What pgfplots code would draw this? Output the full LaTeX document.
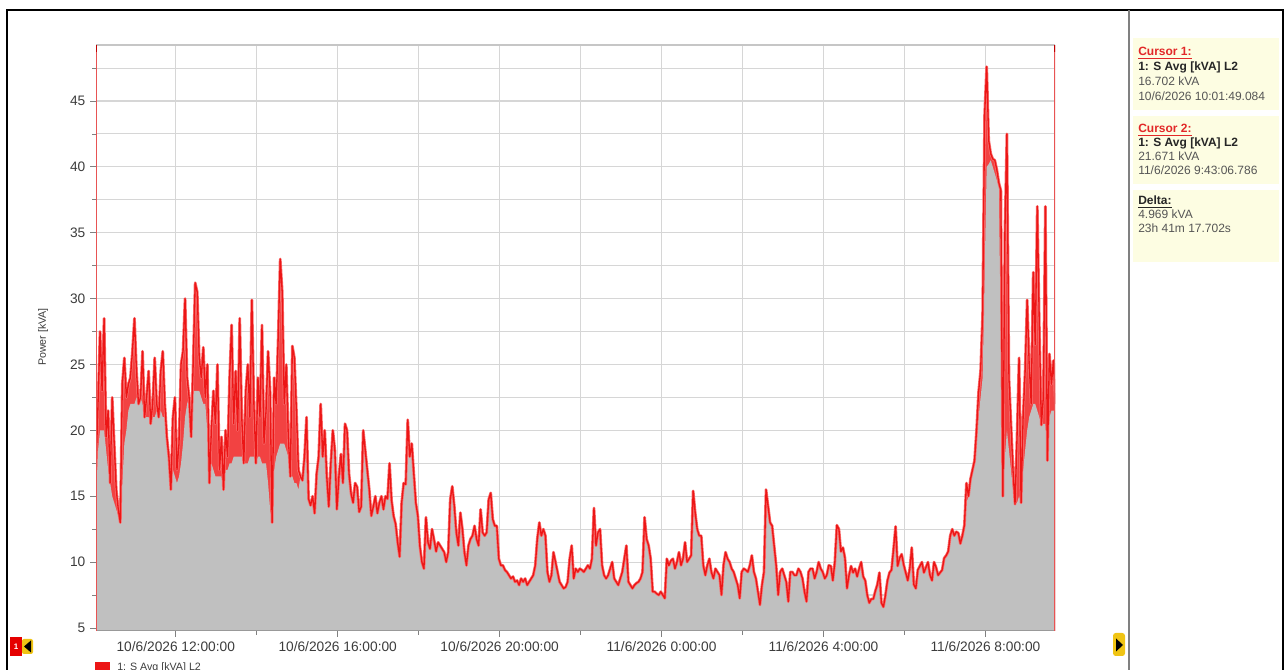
\documentclass[border=0pt]{standalone}
\usepackage{pgfplots}
\usepackage{pgfplotstable}
\pgfplotsset{compat=1.18}
\usepackage{fontspec}
\setmainfont{Liberation Sans}

\definecolor{fillgray}{RGB}{192,192,192}
\definecolor{tracered}{RGB}{236,22,22}
\definecolor{tracepink}{RGB}{248,110,110}
\definecolor{bandred}{RGB}{242,66,66}
\definecolor{gridgray}{RGB}{214,214,214}
\definecolor{panelyellow}{RGB}{253,253,226}
\definecolor{txtgray}{RGB}{85,85,85}
\definecolor{tickgray}{RGB}{60,60,60}
\definecolor{cursorred}{RGB}{226,40,40}
\definecolor{btnyellow}{RGB}{240,196,20}

% S Avg [kVA] L2, one sample every 3 minutes from 10/6/2026 10:01:49.
% v: sampled value; lo: lower edge of the fast fluctuation band
% (60 where the trace is calm and no band shows).
\pgfplotstableread[row sep=\\]{
v lo\\
17 17\\ 22 18.5\\ 27.5 20\\ 23 20\\ 28.5 20\\ 19.5 18.5\\ 21.5 17\\ 16 16\\ 22.5 15\\ 19 14.5\\
15.5 14\\ 14 13.5\\ 13 13\\ 23.5 16\\ 25.5 19\\ 22.5 20\\ 23.5 21.5\\ 24 22\\ 26 22\\ 28.5 22\\
24.5 22.5\\ 22 22.5\\ 22.5 22.5\\ 26 22\\ 21 21.5\\ 22.5 21\\ 24.5 21\\ 20.5 21\\ 22 21\\ 25.5 21\\
22 21.5\\ 21 21.5\\ 24.5 21.5\\ 26 21\\ 22 21\\ 19.5 20\\ 18 19\\ 15.5 18\\ 21 17\\ 22.5 16.5\\
17 16\\ 19 16.5\\ 25 17.5\\ 26 19\\ 30 21\\ 24 22\\ 22.5 22.5\\ 19.5 23\\ 25 23\\ 31.2 23\\
30.5 23\\ 25.5 23\\ 24 22.5\\ 26.3 22\\ 22.5 22\\ 25 20\\ 16 18.5\\ 20 17.5\\ 23 17\\ 20.5 16.5\\
25 16.5\\ 17 16.5\\ 19.5 16.5\\ 15.5 16.5\\ 20 17\\ 18 17\\ 24 17.5\\ 28 17.5\\ 20.5 18\\ 24.5 18\\
20 18\\ 28.5 18\\ 21 18\\ 17.5 18\\ 23 17.5\\ 25 17.5\\ 21 18\\ 29.9 18\\ 22 18\\ 17.5 18\\
24 18\\ 21 18\\ 28 17.5\\ 19 17.5\\ 21.5 17.5\\ 26 16\\ 23 14\\ 13 13\\ 24 17\\ 22 18\\
27 18.5\\ 33 19\\ 30.5 19\\ 22 19\\ 25 18.5\\ 19.5 18\\ 16.5 17\\ 26.4 16.5\\ 25.5 16\\ 21.5 16\\
17 15.5\\ 16.5 60\\ 16.2 60\\ 18 60\\ 21 60\\ 14.8 60\\ 14.3 60\\ 15 60\\ 13.7 60\\ 16.7 60\\
18 60\\ 22 60\\ 18 60\\ 20 60\\ 16.5 60\\ 14.2 60\\ 17.5 60\\ 20 60\\ 18.5 60\\ 14 60\\
16.5 60\\ 18.2 60\\ 16 60\\ 20.5 60\\ 20 60\\ 16.7 60\\ 15.2 60\\ 14.5 60\\ 16 60\\ 15.7 60\\
13.8 60\\ 14.2 60\\ 20 60\\ 18.5 60\\ 17 60\\ 15.5 60\\ 13.5 60\\ 14.2 60\\ 15 60\\ 13.7 60\\
14.5 60\\ 15 60\\ 14 60\\ 15 60\\ 14.8 60\\ 17.5 60\\ 14.7 60\\ 13.5 60\\ 12.9 60\\ 11.5 60\\
10.4 60\\ 14.5 60\\ 16 60\\ 15.9 60\\ 20.8 60\\ 18 60\\ 19 60\\ 16.7 60\\ 14.5 60\\ 13.5 60\\
11.2 60\\ 10 60\\ 9.5 60\\ 13.4 60\\ 11.5 60\\ 11 60\\ 12.5 60\\ 11.7 60\\ 10.8 60\\ 11.5 60\\
11.25 60\\ 11 60\\ 10.75 60\\ 10 60\\ 10.75 60\\ 14.75 60\\ 15.75 60\\ 14.25 60\\ 12.25 60\\ 11.25 60\\
13.75 60\\ 12.5 60\\ 10.75 60\\ 9.75 60\\ 11.25 60\\ 11.75 60\\ 12 60\\ 12.75 60\\ 11.75 60\\ 11.25 60\\
14 60\\ 12.25 60\\ 12 60\\ 12.25 60\\ 14.75 60\\ 15.25 60\\ 13.25 60\\ 12.75 60\\ 12.75 60\\ 10.25 60\\
9.75 60\\ 9.75 60\\ 9.4 60\\ 9.25 60\\ 9 60\\ 8.75 60\\ 8.9 60\\ 8.5 60\\ 8.6 60\\ 8.25 60\\
8.75 60\\ 8.5 60\\ 8.75 60\\ 8.25 60\\ 8.5 60\\ 8.75 60\\ 9 60\\ 9.75 60\\ 11.75 60\\ 13 60\\
12 60\\ 12.5 60\\ 12 60\\ 9.25 60\\ 8.5 60\\ 9 60\\ 10.75 60\\ 10 60\\ 9.25 60\\ 8.5 60\\
8.25 60\\ 8 60\\ 8.1 60\\ 8.5 60\\ 10.25 60\\ 11.25 60\\ 8.75 60\\ 9.5 60\\ 9.25 60\\ 9.5 60\\
9.4 60\\ 9.25 60\\ 9.5 60\\ 9.75 60\\ 9.5 60\\ 10.25 60\\ 14.1 60\\ 11.25 60\\ 12.25 60\\ 12.5 60\\
9.75 60\\ 9 60\\ 8.75 60\\ 9 60\\ 9.5 60\\ 10 60\\ 8.75 60\\ 8.5 60\\ 8.25 60\\ 8.75 60\\
9.25 60\\ 10.25 60\\ 11.25 60\\ 8.5 60\\ 8.25 60\\ 8 60\\ 8.25 60\\ 8.4 60\\ 8.5 60\\ 8.75 60\\
9.25 60\\ 13.4 60\\ 11.75 60\\ 11.25 60\\ 10.25 60\\ 7.75 60\\ 7.75 60\\ 7.6 60\\ 7.5 60\\ 7.75 60\\
7.5 60\\ 7.25 60\\ 10.25 60\\ 9.75 60\\ 10.1 60\\ 10.25 60\\ 9.5 60\\ 10 60\\ 10.75 60\\ 9.75 60\\
10.25 60\\ 11.5 60\\ 10 60\\ 10.25 60\\ 10.5 60\\ 15.4 60\\ 13.75 60\\ 12.5 60\\ 12 60\\ 12 60\\
9.75 60\\ 9 60\\ 9.75 60\\ 10.25 60\\ 9.25 60\\ 8.75 60\\ 9.5 60\\ 9.25 60\\ 9 60\\ 7.5 60\\
9.75 60\\ 10.75 60\\ 10.25 60\\ 10 60\\ 9.5 60\\ 9.25 60\\ 8.75 60\\ 8.25 60\\ 7.25 60\\ 9.25 60\\
9.5 60\\ 9.4 60\\ 9.25 60\\ 9.75 60\\ 10.5 60\\ 9.25 60\\ 8.75 60\\ 7.75 60\\ 6.75 60\\ 8.25 60\\
9.25 60\\ 15.5 60\\ 14.25 60\\ 13 60\\ 12.75 60\\ 11.25 60\\ 9.75 60\\ 7.5 60\\ 9.25 60\\ 9.5 60\\
9 60\\ 8.5 60\\ 7 60\\ 9.25 60\\ 9.25 60\\ 9 60\\ 9 60\\ 9.5 60\\ 9.25 60\\ 8.75 60\\
7.75 60\\ 7 60\\ 9.25 60\\ 9.5 60\\ 9.5 60\\ 8.75 60\\ 9.25 60\\ 10 60\\ 9.5 60\\ 9.25 60\\
8.75 60\\ 9 60\\ 9.75 60\\ 9.7 60\\ 8.6 60\\ 10 60\\ 12.8 60\\ 12.5 60\\ 10.8 60\\ 11.1 60\\
10.3 60\\ 8 60\\ 9 60\\ 9.7 60\\ 9.2 60\\ 9.5 60\\ 8.9 60\\ 9.5 60\\ 10 60\\ 8.9 60\\
8.6 60\\ 7.5 60\\ 6.9 60\\ 7.2 60\\ 7.2 60\\ 7.8 60\\ 8.3 60\\ 9.2 60\\ 6.9 60\\ 6.6 60\\
7.5 60\\ 8.6 60\\ 9.2 60\\ 9.4 60\\ 11 60\\ 12.7 60\\ 9.7 60\\ 10.3 60\\ 10.6 60\\ 9.8 60\\
9.2 60\\ 8.6 60\\ 9.5 60\\ 11.1 60\\ 8.3 60\\ 8 60\\ 9.4 60\\ 9.7 60\\ 10 60\\ 9.2 60\\
9.6 60\\ 10 60\\ 9 60\\ 8.6 60\\ 10 60\\ 9.6 60\\ 9 60\\ 9.2 60\\ 9.4 60\\ 10.3 60\\
10.5 60\\ 10.8 60\\ 12 60\\ 12.5 60\\ 12 60\\ 12.3 60\\ 12.2 60\\ 11.4 60\\ 12 12\\ 12.8 13\\
16 14.5\\ 15 15\\ 16.3 16.3\\ 17 17\\ 17.7 17.7\\ 20 19.5\\ 22.9 21\\ 24.5 22.5\\ 28.8 24\\ 44 32\\
47.6 40\\ 42 40.2\\ 41 40.5\\ 40.6 40\\ 40.5 39.5\\ 39.8 39\\ 38.8 38.5\\ 38.2 27\\ 15 15\\ 35 18\\
42.5 20\\ 24 18.5\\ 20.5 17\\ 17 15.5\\ 14.4 14.4\\ 19.5 14.5\\ 25.5 15\\ 14.5 14.5\\ 21 17\\ 24.5 18.5\\
29.9 20\\ 25 21\\ 22 21.5\\ 32 22\\ 26.5 22\\ 37 21.5\\ 28 21\\ 20.4 20.4\\ 22.5 20.5\\ 37 20.5\\
17.7 17.7\\ 25.8 21\\ 23.5 21.5\\ 25.3 21.5\\ 22 21.5\\
}\savg

\begin{document}
\begin{tikzpicture}
\begin{scope}[x=0.75pt, y=0.75pt]
\clip (0,0) rectangle (1287,670);
\path (0,0) rectangle (1287,670);

% window frame and side panel
\draw[black, line width=1.6pt] (7,-10) -- (7,660) -- (1283,660) -- (1283,-10);
\draw[gray, line width=1pt] (1129,-10) -- (1129,660);
\fill[panelyellow] (1133,632) rectangle (1279,560);
\fill[panelyellow] (1133,554) rectangle (1279,486);
\fill[panelyellow] (1133,480) rectangle (1279,408);

\begin{scope}[every node/.style={anchor=base west, inner sep=0pt, font=\fontsize{9}{11}\selectfont}]
\node[text=cursorred] at (1138,614) {\underline{\textbf{Cursor 1:}}};
\node[text=black!85] at (1138,599) {\textbf{1: S Avg [kVA] L2}};
\node[text=txtgray] at (1138,584) {16.702 kVA};
\node[text=txtgray] at (1138,569) {10/6/2026 10:01:49.084};
\node[text=cursorred] at (1138,537) {\underline{\textbf{Cursor 2:}}};
\node[text=black!85] at (1138,523) {\textbf{1: S Avg [kVA] L2}};
\node[text=txtgray] at (1138,509) {21.671 kVA};
\node[text=txtgray] at (1138,495) {11/6/2026 9:43:06.786};
\node[text=black!85] at (1138,465) {\underline{\textbf{Delta:}}};
\node[text=txtgray] at (1138,451) {4.969 kVA};
\node[text=txtgray] at (1138,437) {23h 41m 17.702s};
\end{scope}

% axis title
\node[rotate=90, font=\fontsize{8}{10}\selectfont, text=tickgray] at (43,333) {Power [kVA]};

% cursor buttons
\fill[red!90!black] (10,14) rectangle (22,33);
\node[text=white, font=\fontsize{6}{7}\selectfont\bfseries] at (16,23.5) {1};
\fill[btnyellow, rounded corners=1.5pt] (22,16) rectangle (33,31);
\fill[black] (31,17.5) -- (31,29.5) -- (24,23.5) -- cycle;
\fill[btnyellow, rounded corners=2pt] (1113,14) rectangle (1125,37);
\fill[black] (1116,18.5) -- (1116,31.5) -- (1123,25) -- cycle;

% legend entry
\fill[tracered] (95,-4) rectangle (110,8);
\node[anchor=west, inner sep=0pt, font=\fontsize{8}{10}\selectfont, text=tickgray] at (117,2) {1: S Avg [kVA] L2};
\end{scope}

\begin{axis}[
  at={(72pt,29.25pt)}, anchor=south west,
  scale only axis, width=719.25pt, height=439.5pt,
  xmin=10.03, xmax=33.718, ymin=4.77, ymax=49.25,
  xtick={12,16,20,24,28,32},
  xticklabels={10/6/2026 12:00:00, 10/6/2026 16:00:00, 10/6/2026 20:00:00,
               11/6/2026 0:00:00, 11/6/2026 4:00:00, 11/6/2026 8:00:00},
  minor xtick={14,18,22,26,30},
  ytick={5,10,15,20,25,30,35,40,45},
  minor ytick={7.5,12.5,17.5,22.5,27.5,32.5,37.5,42.5,47.5},
  grid=both,
  major grid style={gridgray, line width=0.8pt},
  minor grid style={gridgray, line width=0.8pt},
  axis line style={draw=none},
  tick align=outside, tick pos=left,
  major tick length=4.5pt, minor tick length=3pt,
  every tick/.style={gray, line width=0.6pt},
  tick label style={font=\fontsize{10.3}{12}\selectfont, text=tickgray},
  /pgf/number format/assume math mode=true,
]
% fluctuation band under the trace, grey area under its lower edge
\addplot[draw=none, fill=bandred] table[x expr=10.03+\coordindex*0.05, y=v] {\savg} \closedcycle;
\addplot[draw=none, fill=fillgray] table[x expr=10.03+\coordindex*0.05, y expr={min(\thisrow{v},\thisrow{lo})}] {\savg} \closedcycle;
% trace: soft halo under a sharper red core
\addplot[tracepink, line width=2.1pt, line join=round] table[x expr=10.03+\coordindex*0.05, y=v] {\savg};
\addplot[tracered, line width=1pt, line join=round] table[x expr=10.03+\coordindex*0.05, y=v] {\savg};
% frame: grey top and bottom, cursor lines left and right
\draw[gray!45, line width=0.8pt] (rel axis cs:0,1) -- (rel axis cs:1,1);
\draw[gray!80, line width=0.8pt] (rel axis cs:0,0) -- (rel axis cs:1,0);
\draw[cursorred!80, line width=0.9pt] (rel axis cs:0,0) -- (rel axis cs:0,1);
\draw[cursorred!80, line width=0.9pt] (rel axis cs:1,0) -- (rel axis cs:1,1);
\draw[red!75!black, line width=1.5pt] (rel axis cs:0,1) -- ++(0pt,-5pt);
\draw[red!75!black, line width=1.5pt] (rel axis cs:1,1) -- ++(0pt,-5pt);
\end{axis}
\end{tikzpicture}
\end{document}
